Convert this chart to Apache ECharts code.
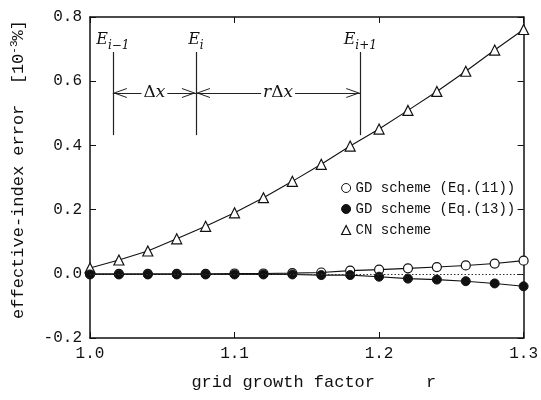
<!DOCTYPE html>
<html>
<head>
<meta charset="utf-8">
<script src="https://cdn.jsdelivr.net/npm/echarts@6/dist/echarts.min.js"></script>
<style>html,body{margin:0;padding:0;background:#fff}#c{width:541px;height:400px}</style>
</head>
<body>
<div id="c"></div>
<script>
// ---- data ----
const growthFactor = [1.00, 1.02, 1.04, 1.06, 1.08, 1.10, 1.12, 1.14, 1.16, 1.18, 1.20, 1.22, 1.24, 1.26, 1.28, 1.30];
const gdEq11 = [0.000, 0.000, 0.000, 0.000, 0.000, 0.001, 0.001, 0.002, 0.004, 0.010, 0.013, 0.017, 0.021, 0.026, 0.032, 0.041];
const gdEq13 = [-0.002, -0.002, -0.002, -0.002, -0.002, -0.002, -0.002, -0.002, -0.004, -0.004, -0.009, -0.015, -0.018, -0.023, -0.030, -0.039];
const cnScheme = [0.018, 0.043, 0.071, 0.109, 0.148, 0.190, 0.237, 0.288, 0.341, 0.398, 0.451, 0.509, 0.568, 0.631, 0.697, 0.761];
const seriesNames = ['GD scheme (Eq.(11))', 'GD scheme (Eq.(13))', 'CN scheme'];
const xTicks = [1.0, 1.1, 1.2, 1.3];
const yTicks = [-0.2, 0.0, 0.2, 0.4, 0.6, 0.8];
// schematic annotation (grid points E_{i-1}, E_i, E_{i+1}) in data units
const gridPointX = [1.0158, 1.0733, 1.187];
const gridLineY = [0.432, 0.691];
const arrowY = 0.563;

const pair = arr => growthFactor.map((x, i) => [x, arr[i]]);
const MONO = '"Liberation Mono", "DejaVu Sans Mono", monospace';
const SERIF = '"DejaVu Serif", "Liberation Serif", serif';
const chev = 'path://M5,0 L10,12 L9,12 L5,2.5 L1,12 L0,12 Z';

const chart = echarts.init(document.getElementById('c'), null, {renderer: 'canvas'});

const eLabel = (sub) => ({
  show: true, position: 'end', distance: 4,
  formatter: '{e|E}{s|' + sub + '}',
  rich: {
    e: {fontFamily: SERIF, fontStyle: 'italic', fontSize: 16, color: '#111', lineHeight: 20, verticalAlign: 'bottom'},
    s: {fontFamily: SERIF, fontStyle: 'italic', fontSize: 12, color: '#111', lineHeight: 12, verticalAlign: 'bottom', padding: [0, 0, -4, 0]}
  }
});

const frameAxis = {
  axisLine: {onZero: false, lineStyle: {color: '#111', width: 1.5}},
  axisTick: {inside: true, length: 6, lineStyle: {color: '#111'}},
  splitLine: {show: false}
};

const option = {
  animation: false,
  backgroundColor: '#fff',
  grid: {left: 90, right: 13, top: 17, bottom: 62},
  legend: {
    orient: 'vertical', left: 336, top: 176, itemGap: 7,
    itemWidth: 9, itemHeight: 9,
    textStyle: {fontFamily: MONO, fontSize: 14, color: '#111'},
    data: [
      {name: seriesNames[0], icon: 'circle', itemStyle: {color: '#fff', borderColor: '#111', borderWidth: 1}},
      {name: seriesNames[1], icon: 'circle', itemStyle: {color: '#111', borderColor: '#111', borderWidth: 1}},
      {name: seriesNames[2], icon: 'triangle', itemStyle: {color: '#fff', borderColor: '#111', borderWidth: 1.2}}
    ]
  },
  xAxis: [Object.assign({
    type: 'value', min: xTicks[0], max: xTicks[xTicks.length - 1], interval: 0.1,
    name: 'grid growth factor     r', nameLocation: 'middle', nameGap: 36,
    nameTextStyle: {fontFamily: MONO, fontSize: 17, color: '#111', padding: [0, 0, 0, 14]},
    axisLabel: {margin: 8, fontFamily: MONO, fontSize: 16, color: '#111', formatter: v => v.toFixed(1)}
  }, frameAxis), Object.assign({
    type: 'value', position: 'top', min: xTicks[0], max: xTicks[xTicks.length - 1], interval: 0.1,
    axisLabel: {show: false}
  }, frameAxis)],
  yAxis: [Object.assign({
    type: 'value', min: yTicks[0], max: yTicks[yTicks.length - 1], interval: 0.2,
    name: 'effective-index error  [10{sup|-3}%]', nameLocation: 'middle', nameGap: 62, nameRotate: 90,
    nameTextStyle: {fontFamily: MONO, fontSize: 17, color: '#111', padding: [0, 0, 0, 16],
      rich: {sup: {fontFamily: MONO, fontSize: 11, color: '#111', verticalAlign: 'top', padding: [0, 0, 8, 0]}}},
    axisLabel: {margin: 8, fontFamily: MONO, fontSize: 16, color: '#111', formatter: v => v.toFixed(1)}
  }, frameAxis), Object.assign({
    type: 'value', position: 'right', min: yTicks[0], max: yTicks[yTicks.length - 1], interval: 0.2,
    axisLabel: {show: false}
  }, frameAxis)],
  series: [
    {
      name: seriesNames[0], type: 'line', data: pair(gdEq11), z: 3,
      symbol: 'circle', symbolSize: 9,
      lineStyle: {color: '#111', width: 1.1},
      itemStyle: {color: '#fff', borderColor: '#111', borderWidth: 1.2},
      markLine: {
        silent: true, symbol: 'none', label: {show: false},
        lineStyle: {type: [1.5, 2], color: '#333', width: 1},
        data: [{yAxis: 0}]
      }
    },
    {
      name: seriesNames[1], type: 'line', data: pair(gdEq13), z: 4,
      symbol: 'circle', symbolSize: 9,
      lineStyle: {color: '#111', width: 1.1},
      itemStyle: {color: '#111', borderColor: '#111', borderWidth: 1}
    },
    {
      name: seriesNames[2], type: 'line', data: pair(cnScheme), z: 3,
      symbol: 'triangle', symbolSize: 10,
      lineStyle: {color: '#111', width: 1.1},
      itemStyle: {color: '#fff', borderColor: '#111', borderWidth: 1.2}
    },
    {
      name: 'annotation', type: 'line', data: [], z: 2, silent: true,
      markLine: {
        silent: true, animation: false,
        lineStyle: {color: '#222', width: 1.2, type: 'solid'},
        data: [
          [{coord: [gridPointX[0], gridLineY[0]], symbol: 'none'}, {coord: [gridPointX[0], gridLineY[1]], symbol: 'none', label: eLabel('i\u22121')}],
          [{coord: [gridPointX[1], gridLineY[0]], symbol: 'none'}, {coord: [gridPointX[1], gridLineY[1]], symbol: 'none', label: eLabel('i')}],
          [{coord: [gridPointX[2], gridLineY[0]], symbol: 'none'}, {coord: [gridPointX[2], gridLineY[1]], symbol: 'none', label: eLabel('i+1')}],
          [{coord: [gridPointX[0], arrowY], symbol: chev, symbolSize: [10, 14], symbolOffset: [0, 7], label: {show: false}},
           {coord: [gridPointX[1], arrowY], symbol: chev, symbolSize: [10, 14], symbolOffset: [0, 7], label: {show: false}}],
          [{coord: [gridPointX[1], arrowY], symbol: chev, symbolSize: [10, 14], symbolOffset: [0, 7], label: {show: false}},
           {coord: [gridPointX[2], arrowY], symbol: chev, symbolSize: [10, 14], symbolOffset: [0, 7], label: {show: false}}]
        ]
      },
      markPoint: {
        silent: true, symbol: 'rect', symbolSize: 1, itemStyle: {color: 'rgba(0,0,0,0)'},
        label: {show: true, position: 'inside', backgroundColor: '#fff', padding: [0, 2],
          rich: {
            d: {fontFamily: SERIF, fontSize: 17, color: '#111'},
            x: {fontFamily: SERIF, fontStyle: 'italic', fontSize: 17, color: '#111'}
          }},
        data: [
          {coord: [(gridPointX[0] + gridPointX[1]) / 2, arrowY], label: {formatter: '{d|\u0394}{x|x}'}},
          {coord: [(gridPointX[1] + gridPointX[2]) / 2, arrowY], label: {formatter: '{x|r}{d|\u0394}{x|x}'}}
        ]
      }
    }
  ]
};
chart.setOption(option);
</script>
</body>
</html>
